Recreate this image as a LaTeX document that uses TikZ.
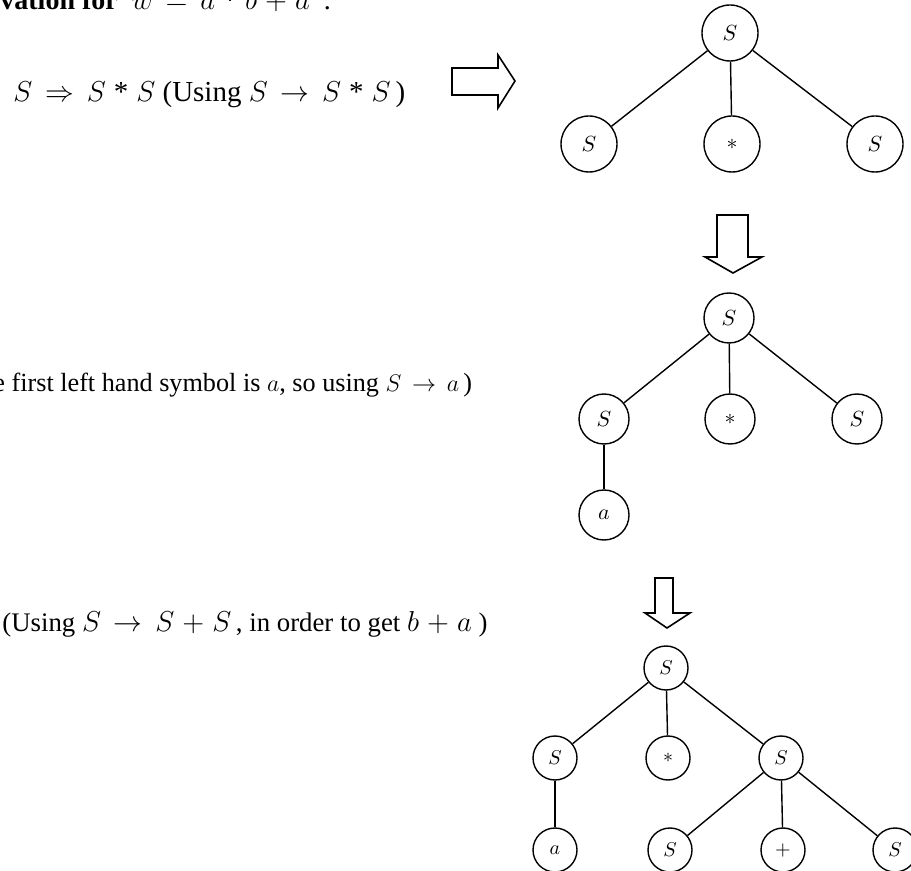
\documentclass[tikz,border=0pt]{standalone}
\usepackage{fontspec}
\setmainfont{Liberation Serif}
\usetikzlibrary{positioning}
\newcommand{\tstar}{\mathbin{\mbox{*}}}
\thickmuskip=8mu plus 2mu
\medmuskip=5mu plus 2mu

\begin{document}
\begin{tikzpicture}[
  x=0.5pt, y=-0.5pt,
  font=\fontsize{13.1}{16}\selectfont,
  vtx/.style={draw, circle, line width=0.7pt, inner sep=0pt},
  big/.style={vtx, minimum size=28pt, font=\fontsize{11}{13}\selectfont},
  mid/.style={vtx, minimum size=25pt, font=\fontsize{10.5}{12}\selectfont},
  small/.style={vtx, minimum size=22pt, font=\fontsize{10}{12}\selectfont},
  edge/.style={line width=0.7pt},
  hollow/.style={line width=0.8pt, line join=miter},
  txt/.style={anchor=base west, inner sep=0pt}]

\useasboundingbox (0,0) rectangle (911,871);

% derivation steps
\node[txt, font=\fontsize{14}{16}\selectfont] (head) at (0,10)
  {\textbf{vation for} \ $w = a \tstar b + a$ \ .};
\node[txt, font=\fontsize{14.5}{17}\selectfont] (step1) at (13,102)
  {$S \Rightarrow S \tstar S$ (Using $S \rightarrow S \tstar S$\,)};
\node[txt] (step2) at (-7,392) {e first left hand symbol is $a$, so using $S \rightarrow a$\,)};
\node[txt, font=\fontsize{13.4}{16}\selectfont] (step3) at (2,632)
  {(Using $S \rightarrow S + S$\,, in order to get $b + a$\ )};

% tree 1
\node[big] (t1) at (730,33) {$S$};
\node[big] (t1l) at (589,144) {$S$};
\node[big] (t1m) at (732,144) {$*$};
\node[big] (t1r) at (875,144) {$S$};
\draw[edge] (t1) -- (t1l);
\draw[edge] (t1) -- (t1m);
\draw[edge] (t1) -- (t1r);

% tree 2
\node[mid] (t2) at (729,318) {$S$};
\node[mid] (t2l) at (604,419) {$S$};
\node[mid] (t2m) at (730,419) {$*$};
\node[mid] (t2r) at (857,419) {$S$};
\node[mid] (t2a) at (604,515) {$a$};
\draw[edge] (t2) -- (t2l);
\draw[edge] (t2) -- (t2m);
\draw[edge] (t2) -- (t2r);
\draw[edge] (t2l) -- (t2a);

% tree 3
\node[small] (t3) at (666,668) {$S$};
\node[small] (t3l) at (555,758) {$S$};
\node[small] (t3m) at (668,758) {$*$};
\node[small] (t3r) at (781,758) {$S$};
\node[small] (t3a) at (555,850) {$a$};
\node[small] (t3rl) at (670,850) {$S$};
\node[small] (t3rm) at (783,850) {$+$};
\node[small] (t3rr) at (895,850) {$S$};
\draw[edge] (t3) -- (t3l);
\draw[edge] (t3) -- (t3m);
\draw[edge] (t3) -- (t3r);
\draw[edge] (t3l) -- (t3a);
\draw[edge] (t3r) -- (t3rl);
\draw[edge] (t3r) -- (t3rm);
\draw[edge] (t3r) -- (t3rr);

% hollow arrows
\draw[hollow] (452,68) -- (498,68) -- (498,55) -- (515,81) -- (498,108) -- (498,95) -- (452,95) -- cycle;
\draw[hollow] (717,215) -- (748,215) -- (748,257) -- (762,257) -- (733,273) -- (705,257) -- (717,257) -- cycle;
\draw[hollow] (655,578) -- (673,578) -- (673,613) -- (690,613) -- (667,628) -- (645,613) -- (655,613) -- cycle;
\end{tikzpicture}
\end{document}
